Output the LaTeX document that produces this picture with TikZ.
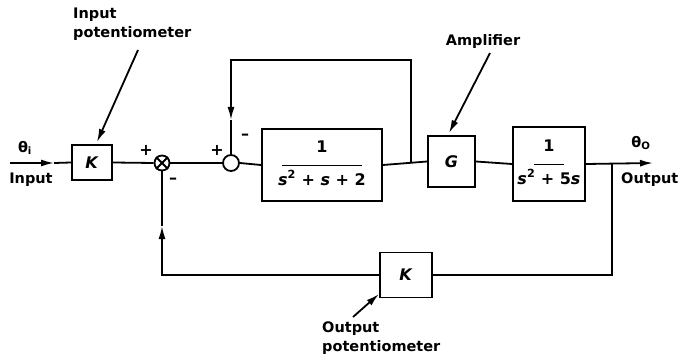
\documentclass[tikz,border=0pt]{standalone}
\usepackage{fontspec}
\setmainfont{DejaVu Sans}
\usetikzlibrary{arrows.meta}
\newcommand{\myfrac}[3]{\begin{tabular}{@{}c@{}}#1\\[-4pt]#2\\[-1pt]#3\end{tabular}}
\newcommand{\vs}{\textit{s}}
\begin{document}
\begin{tikzpicture}[x=1pt,y=-1pt,
  lw/.style={line width=1.8pt},
  blk/.style={draw,line width=1.8pt,inner sep=0pt,font=\fontsize{16}{18}\selectfont\bfseries},
  lbl/.style={font=\fontsize{14.5}{19}\selectfont\bfseries,inner sep=0pt},
  sgn/.style={font=\fontsize{16}{18}\selectfont\bfseries,inner sep=0pt},
  tip/.style={-{Latex[length=13pt,width=7pt]}},
  junc/.style={circle,draw,line width=1.8pt,inner sep=0pt},
]
\useasboundingbox (0,0) rectangle (682,358);

% blocks
\node[blk,minimum width=40pt,minimum height=35pt] (k1) at (92,162.5) {\textit{K}};
\node[junc,minimum size=15pt] (s1) at (162,163) {};
\draw[lw] (s1.north west) -- (s1.south east) (s1.north east) -- (s1.south west);
\node[junc,minimum size=16pt] (s2) at (231,163) {};
\node[blk,minimum width=120pt,minimum height=72pt] (p1) at (322,165)
  {\myfrac{1}{\rule{80pt}{1.3pt}}{\vs\textsuperscript{2} + \vs{} + 2}};
\node[blk,minimum width=47pt,minimum height=51pt] (g) at (451.5,161.5) {\textit{G}};
\node[blk,minimum width=72pt,minimum height=74pt] (p2) at (549,164)
  {\myfrac{1}{\rule{30pt}{1.3pt}}{\vs\textsuperscript{2} + 5\vs}};
\node[blk,minimum width=52pt,minimum height=45pt] (k2) at (406,275) {\textit{K}};

% coordinates
\coordinate (inA) at (10,163);
\coordinate (inB) at (54,163);
\coordinate (b1) at (411,163);
\coordinate (t1) at (411,60);
\coordinate (t2) at (231,60);
\coordinate (t3) at (231,120);
\coordinate (b2) at (612,163);
\coordinate (outE) at (653,163);
\coordinate (f1) at (612,275);
\coordinate (f2) at (162,275);
\coordinate (f3) at (162,226);

% main path
\draw[lw,tip] (inA) -- (inB);
\draw[lw] (inB) -- (k1.west);
\draw[lw] (k1.east) -- (s1.west);
\draw[lw] (s1.east) -- (s2.west);
\draw[lw] (s2.east) -- (p1.west);
\draw[lw] (p1.east) -- (g.west);
\draw[lw] (g.east) -- (p2.west);
\draw[lw,tip] (p2.east) -- (outE);

% inner loop
\draw[lw,tip] (b1) -- (t1) -- (t2) -- (t3);
\draw[lw] (t3) -- (s2.north);

% outer feedback
\draw[lw] (b2) -- (f1) -- (k2.east);
\draw[lw,tip] (k2.west) -- (f2) -- (f3);
\draw[lw] (f3) -- (s1.south);

% signs
\node[sgn] (pl1) at (146,150) {+};
\node[sgn] (mi1) at (173,181) {\textendash};
\node[sgn] (pl2) at (217,150) {+};
\node[sgn] (mi2) at (245,137) {\textendash};

% labels
\node[lbl,align=left,anchor=west] (ipl) at (73,24) {Input\\potentiometer};
\node[lbl] (ampl) at (483,42) {Amplifier};
\node[lbl,align=left,anchor=west] (opl) at (322,338) {Output\\potentiometer};
\node[lbl] (thi) at (25,148) {θ\textsubscript{i}};
\node[lbl] (inl) at (31,180) {Input};
\node[lbl] (tho) at (641,143) {θ\textsubscript{O}};
\node[lbl,anchor=west] (outl) at (621,180) {Output};

% pointer arrows
\coordinate (pa1) at (138,50);
\coordinate (pa2) at (97,142);
\coordinate (pb1) at (490,53);
\coordinate (pb2) at (449,133);
\coordinate (pc1) at (353,317);
\coordinate (pc2) at (379,294);
\draw[lw,tip] (pa1) -- (pa2);
\draw[lw,tip] (pb1) -- (pb2);
\draw[lw,tip] (pc1) -- (pc2);
\end{tikzpicture}
\end{document}
